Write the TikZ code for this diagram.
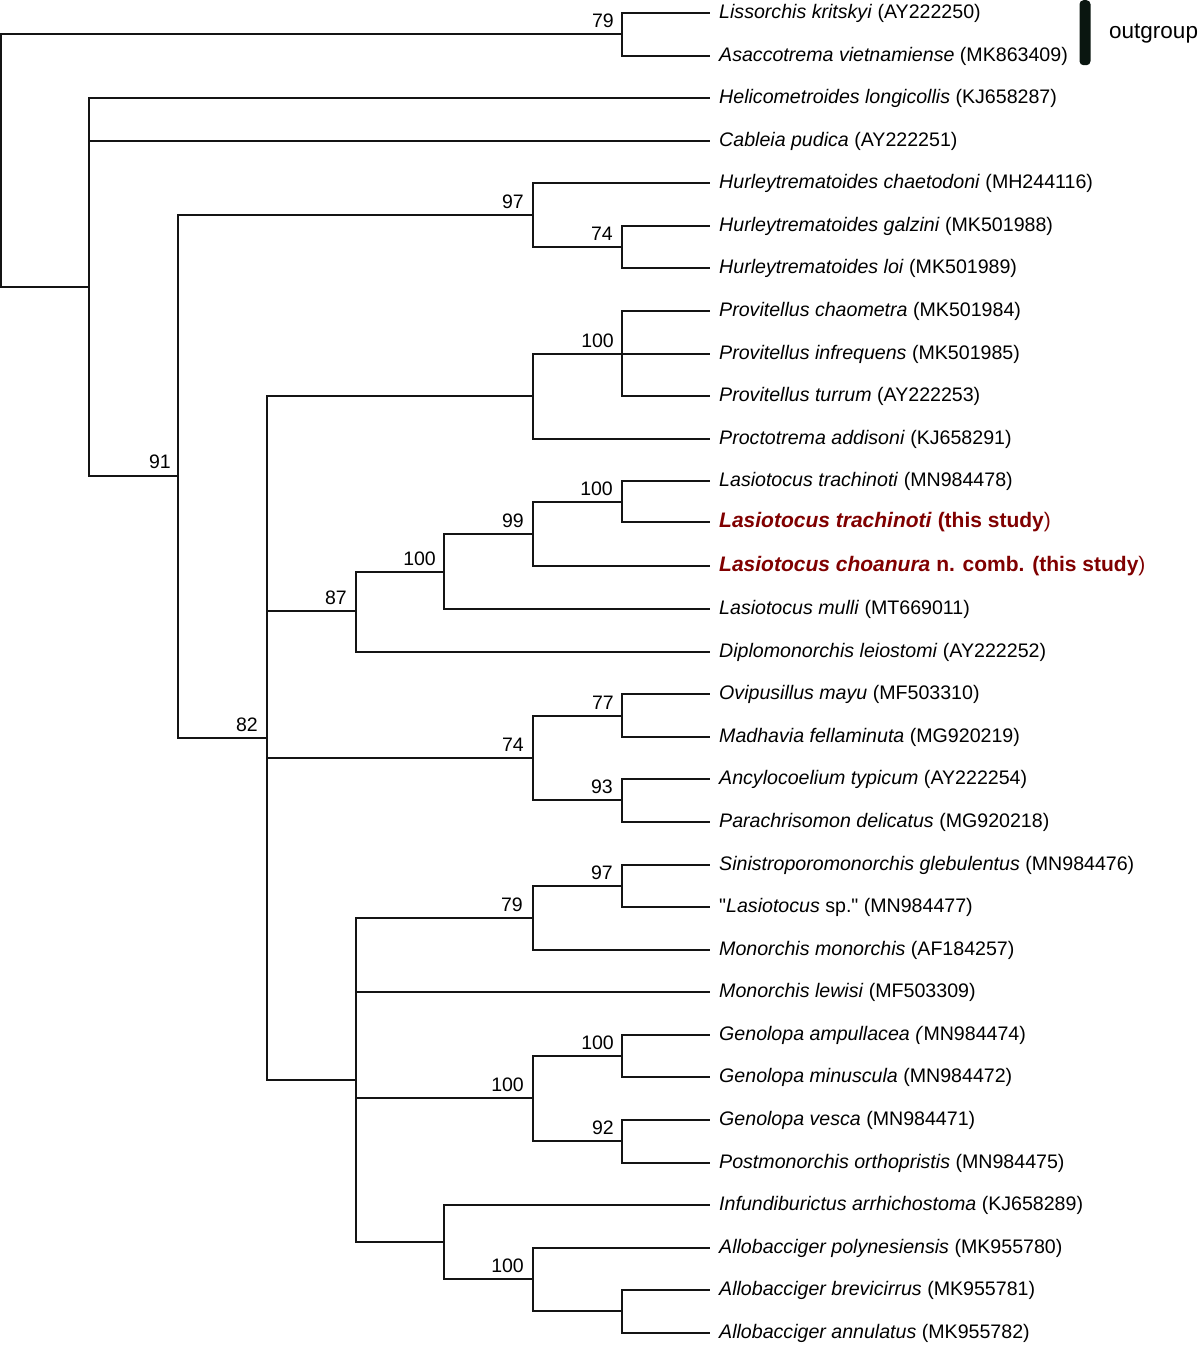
\documentclass[tikz,border=0pt]{standalone}
\usepackage{fontspec}
\setmainfont{Liberation Sans}
\newfontfamily\plainquote{Liberation Sans}
\usetikzlibrary{calc}
\definecolor{studyred}{RGB}{128,0,0}
\definecolor{bardark}{RGB}{10,22,16}
\definecolor{treeline}{RGB}{20,20,20}
\begin{document}
\begin{tikzpicture}[x=1pt,y=-1pt,
  every node/.style={inner sep=0pt},
  branch/.style={line width=2pt, draw=treeline},
  leaf/.style={anchor=west, inner xsep=9pt, inner ysep=0pt, font=\fontsize{19.6}{23}\selectfont},
  studyleaf/.style={leaf, text=studyred, font=\fontsize{21}{25}\selectfont},
  bs/.style={anchor=base east, font=\fontsize{19.5}{23}\selectfont}]
\useasboundingbox (0,0) rectangle (1200,1345);

% leaves
\node[leaf] (L1) at (710,13) {\textit{Lissorchis kritskyi} (AY222250)};
\node[leaf] (L2) at (710,56) {\textit{Asaccotrema vietnamiense} (MK863409)};
\node[leaf] (L3) at (710,98) {\textit{Helicometroides longicollis} (KJ658287)};
\node[leaf] (L4) at (710,141) {\textit{Cableia pudica} (AY222251)};
\node[leaf] (L5) at (710,183) {\textit{Hurleytrematoides chaetodoni} (MH244116)};
\node[leaf] (L6) at (710,226) {\textit{Hurleytrematoides galzini} (MK501988)};
\node[leaf] (L7) at (710,268) {\textit{Hurleytrematoides loi} (MK501989)};
\node[leaf] (L8) at (710,311) {\textit{Provitellus chaometra} (MK501984)};
\node[leaf] (L9) at (710,354) {\textit{Provitellus infrequens} (MK501985)};
\node[leaf] (L10) at (710,396) {\textit{Provitellus turrum} (AY222253)};
\node[leaf] (L11) at (710,439) {\textit{Proctotrema addisoni} (KJ658291)};
\node[leaf] (L12) at (710,481) {\textit{Lasiotocus trachinoti} (MN984478)};
\node[studyleaf] (L13) at (710,522) {\textbf{\textit{Lasiotocus trachinoti} (this study})};
\node[studyleaf] (L14) at (710,566) {\textbf{\textit{Lasiotocus choanura} n. comb. (this study})};
\node[leaf] (L15) at (710,609) {\textit{Lasiotocus mulli} (MT669011)};
\node[leaf] (L16) at (710,652) {\textit{Diplomonorchis leiostomi} (AY222252)};
\node[leaf] (L17) at (710,694) {\textit{Ovipusillus mayu} (MF503310)};
\node[leaf] (L18) at (710,737) {\textit{Madhavia fellaminuta} (MG920219)};
\node[leaf] (L19) at (710,779) {\textit{Ancylocoelium typicum} (AY222254)};
\node[leaf] (L20) at (710,822) {\textit{Parachrisomon delicatus} (MG920218)};
\node[leaf] (L21) at (710,865) {\textit{Sinistroporomonorchis glebulentus} (MN984476)};
\node[leaf] (L22) at (710,907) {{\plainquote "}\textit{Lasiotocus} sp.{\plainquote "} (MN984477)};
\node[leaf] (L23) at (710,950) {\textit{Monorchis monorchis} (AF184257)};
\node[leaf] (L24) at (710,992) {\textit{Monorchis lewisi} (MF503309)};
\node[leaf] (L25) at (710,1035) {\textit{Genolopa ampullacea (}MN984474)};
\node[leaf] (L26) at (710,1077) {\textit{Genolopa minuscula} (MN984472)};
\node[leaf] (L27) at (710,1120) {\textit{Genolopa vesca} (MN984471)};
\node[leaf] (L28) at (710,1163) {\textit{Postmonorchis orthopristis} (MN984475)};
\node[leaf] (L29) at (710,1205) {\textit{Infundiburictus arrhichostoma} (KJ658289)};
\node[leaf] (L30) at (710,1248) {\textit{Allobacciger polynesiensis} (MK955780)};
\node[leaf] (L31) at (710,1290) {\textit{Allobacciger brevicirrus} (MK955781)};
\node[leaf] (L32) at (710,1333) {\textit{Allobacciger annulatus} (MK955782)};

% internal nodes
\coordinate (root) at (1,161);
\coordinate (nA) at (622,34);
\coordinate (nB) at (89,287);
\coordinate (nC) at (178,476);
\coordinate (nD) at (533,215);
\coordinate (nF) at (622,247);
\coordinate (nE) at (267,738);
\coordinate (nG) at (533,396);
\coordinate (nK) at (622,354);
\coordinate (nH) at (356,611);
\coordinate (nL) at (444,572);
\coordinate (nM) at (533,534);
\coordinate (nN) at (622,502);
\coordinate (nI) at (533,758);
\coordinate (nO) at (622,716);
\coordinate (nP) at (622,800);
\coordinate (nJ) at (356,1080);
\coordinate (nQ) at (533,918);
\coordinate (nT) at (622,886);
\coordinate (nR) at (533,1098);
\coordinate (nU) at (622,1056);
\coordinate (nV) at (622,1141);
\coordinate (nS) at (444,1242);
\coordinate (nW) at (533,1279);
\coordinate (nX) at (622,1311);

% branches
\draw[branch] (root) |- (nA);
\draw[branch] (root) |- (nB);
\draw[branch] (nA) |- (L1.west);
\draw[branch] (nA) |- (L2.west);
\draw[branch] (nB) |- (L3.west);
\draw[branch] (nB) |- (L4.west);
\draw[branch] (nB) |- (nC);
\draw[branch] (nC) |- (nD);
\draw[branch] (nC) |- (nE);
\draw[branch] (nD) |- (L5.west);
\draw[branch] (nD) |- (nF);
\draw[branch] (nF) |- (L6.west);
\draw[branch] (nF) |- (L7.west);
\draw[branch] (nE) |- (nG);
\draw[branch] (nE) |- (nH);
\draw[branch] (nE) |- (nI);
\draw[branch] (nE) |- (nJ);
\draw[branch] (nG) |- (nK);
\draw[branch] (nG) |- (L11.west);
\draw[branch] (nK) |- (L8.west);
\draw[branch] (nK) |- (L9.west);
\draw[branch] (nK) |- (L10.west);
\draw[branch] (nH) |- (nL);
\draw[branch] (nH) |- (L16.west);
\draw[branch] (nL) |- (nM);
\draw[branch] (nL) |- (L15.west);
\draw[branch] (nM) |- (nN);
\draw[branch] (nM) |- (L14.west);
\draw[branch] (nN) |- (L12.west);
\draw[branch] (nN) |- (L13.west);
\draw[branch] (nI) |- (nO);
\draw[branch] (nI) |- (nP);
\draw[branch] (nO) |- (L17.west);
\draw[branch] (nO) |- (L18.west);
\draw[branch] (nP) |- (L19.west);
\draw[branch] (nP) |- (L20.west);
\draw[branch] (nJ) |- (nQ);
\draw[branch] (nJ) |- (L24.west);
\draw[branch] (nJ) |- (nR);
\draw[branch] (nJ) |- (nS);
\draw[branch] (nQ) |- (nT);
\draw[branch] (nQ) |- (L23.west);
\draw[branch] (nT) |- (L21.west);
\draw[branch] (nT) |- (L22.west);
\draw[branch] (nR) |- (nU);
\draw[branch] (nR) |- (nV);
\draw[branch] (nU) |- (L25.west);
\draw[branch] (nU) |- (L26.west);
\draw[branch] (nV) |- (L27.west);
\draw[branch] (nV) |- (L28.west);
\draw[branch] (nS) |- (L29.west);
\draw[branch] (nS) |- (nW);
\draw[branch] (nW) |- (L30.west);
\draw[branch] (nW) |- (nX);
\draw[branch] (nX) |- (L31.west);
\draw[branch] (nX) |- (L32.west);

% bootstrap values
\node[bs] (b79a) at ($(nA)+(-8,-6.5)$) {79};
\node[bs] (b91) at ($(nC)+(-7,-7.5)$) {91};
\node[bs] (b97a) at ($(nD)+(-9,-6.5)$) {97};
\node[bs] (b74a) at ($(nF)+(-9,-6.5)$) {74};
\node[bs] (b82) at ($(nE)+(-9,-7)$) {82};
\node[bs] (b100a) at ($(nK)+(-8,-6.5)$) {100};
\node[bs] (b87) at ($(nH)+(-9,-7)$) {87};
\node[bs] (b100b) at ($(nL)+(-8,-7)$) {100};
\node[bs] (b99) at ($(nM)+(-9,-6.5)$) {99};
\node[bs] (b100c) at ($(nN)+(-9,-6.5)$) {100};
\node[bs] (b74b) at ($(nI)+(-9,-6.5)$) {74};
\node[bs] (b77) at ($(nO)+(-8,-6.5)$) {77};
\node[bs] (b93) at ($(nP)+(-9,-6.5)$) {93};
\node[bs] (b79b) at ($(nQ)+(-10,-6.5)$) {79};
\node[bs] (b97b) at ($(nT)+(-9,-6.5)$) {97};
\node[bs] (b100d) at ($(nR)+(-9,-6.5)$) {100};
\node[bs] (b100e) at ($(nU)+(-8,-6.5)$) {100};
\node[bs] (b92) at ($(nV)+(-8,-6.5)$) {92};
\node[bs] (b100f) at ($(nW)+(-9,-6.5)$) {100};

% outgroup marker
\node[fill=bardark, rounded corners=4pt, minimum width=11pt, minimum height=65pt, anchor=north] (bar) at (1085,0) {};
\node[anchor=base west, font=\fontsize{22.5}{26}\selectfont] (og) at (1109,38.5) {outgroup};
\end{tikzpicture}
\end{document}
